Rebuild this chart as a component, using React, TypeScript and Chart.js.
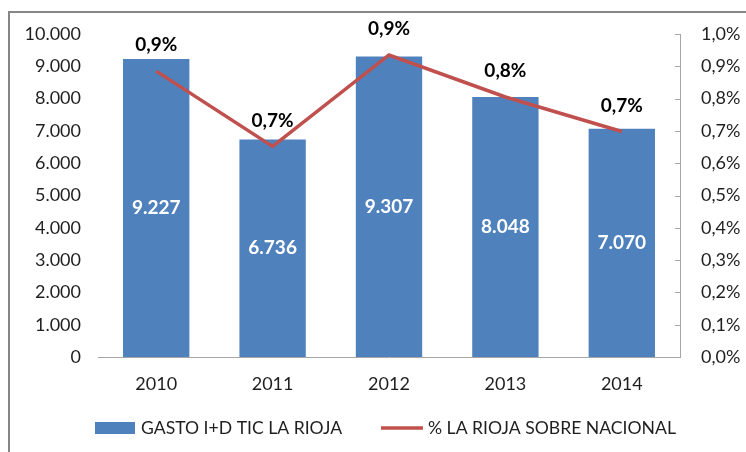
import React, { useEffect, useRef } from "react";
import { Chart, registerables } from "chart.js";

Chart.register(...registerables);

const years = ["2010", "2011", "2012", "2013", "2014"];
const gasto = [9227, 6736, 9307, 8048, 7070];
const porcentaje = [0.885, 0.652, 0.935, 0.805, 0.698];
const barLegend = "GASTO I+D TIC LA RIOJA";
const lineLegend = "% LA RIOJA SOBRE NACIONAL";

const FONT = "Lato";
const TEXT = "#1f1f1f";
const BAR = "#4F81BD";
const LINE = "#C0504D";
const AXIS = "#A6A6A6";

const fmtThousands = (v: number) =>
  Math.round(v).toString().replace(/\B(?=(\d{3})+(?!\d))/g, ".");
const fmtPct = (v: number) => v.toFixed(1).replace(".", ",") + "%";

const decorPlugin = {
  id: "decor",
  beforeDraw(chart: any) {
    const { ctx } = chart;
    ctx.save();
    ctx.fillStyle = "#fff";
    ctx.fillRect(0, 0, chart.width, chart.height);
    ctx.restore();
  },
  afterDraw(chart: any) {
    const { ctx, chartArea } = chart;
    ctx.save();
    // outer frame
    ctx.strokeStyle = "#868686";
    ctx.lineWidth = 2;
    ctx.strokeRect(9, 12, chart.width + 50, chart.height + 50);

    // right axis inner tick marks
    const y1 = chart.scales.y1;
    ctx.strokeStyle = AXIS;
    ctx.lineWidth = 1;
    y1.ticks.forEach((t: any) => {
      const py = Math.round(y1.getPixelForValue(t.value)) + 0.5;
      ctx.beginPath();
      ctx.moveTo(chartArea.right - 5, py);
      ctx.lineTo(chartArea.right, py);
      ctx.stroke();
    });

    // bar value labels
    const barMeta = chart.getDatasetMeta(0);
    ctx.fillStyle = "#fff";
    ctx.font = `bold 19px ${FONT}`;
    ctx.textAlign = "center";
    ctx.textBaseline = "middle";
    barMeta.data.forEach((el: any, i: number) => {
      const mid = (el.y + el.base) / 2;
      ctx.fillText(fmtThousands(gasto[i]), el.x, mid);
    });

    // line labels
    const lineMeta = chart.getDatasetMeta(1);
    ctx.fillStyle = "#000";
    lineMeta.data.forEach((el: any, i: number) => {
      ctx.fillText(fmtPct(porcentaje[i]), el.x, el.y - 26);
    });

    // legend
    const ly = 428;
    ctx.fillStyle = BAR;
    ctx.fillRect(95, ly - 6, 40, 12);
    ctx.fillStyle = TEXT;
    ctx.font = `17.6px ${FONT}`;
    ctx.textAlign = "left";
    ctx.fillText(barLegend, 141, ly);
    ctx.strokeStyle = LINE;
    ctx.lineWidth = 3.5;
    ctx.beginPath();
    ctx.moveTo(381, ly);
    ctx.lineTo(423, ly);
    ctx.stroke();
    ctx.fillText(lineLegend, 428, ly);
    ctx.restore();
  },
};

export default function App() {
  const ref = useRef<HTMLCanvasElement>(null);
  useEffect(() => {
    document.body.style.margin = "0";
    const chart = new Chart(ref.current!, {
      type: "bar",
      data: {
        labels: years,
        datasets: [
          {
            type: "bar",
            label: barLegend,
            data: gasto,
            backgroundColor: BAR,
            categoryPercentage: 1,
            barPercentage: 0.57,
            yAxisID: "y",
            order: 2,
          },
          {
            type: "line",
            label: lineLegend,
            data: porcentaje,
            borderColor: LINE,
            borderWidth: 3.5,
            pointRadius: 0,
            tension: 0,
            yAxisID: "y1",
            order: 1,
          } as any,
        ],
      },
      options: {
        responsive: false,
        animation: false,
        layout: { padding: { top: 34, left: 0, right: 0, bottom: 0 } },
        plugins: { legend: { display: false }, tooltip: { enabled: false } },
        scales: {
          x: {
            grid: { display: false, drawTicks: false },
            border: { display: true, color: AXIS, width: 1 },
            ticks: { color: TEXT, font: { family: FONT, size: 18 }, padding: 16 },
            afterFit: (s: any) => {
              s.height = 95;
            },
          },
          y: {
            position: "left",
            min: 0,
            max: 10000,
            grid: { display: false, drawTicks: false },
            border: { display: false },
            ticks: {
              stepSize: 1000,
              color: TEXT,
              font: { family: FONT, size: 18 },
              padding: 17,
              callback: (v: any) => fmtThousands(Number(v)),
            },
            afterFit: (s: any) => {
              s.width = 98;
            },
          },
          y1: {
            position: "right",
            min: 0,
            max: 1.0,
            grid: { display: false, drawTicks: false },
            border: { display: true, color: AXIS, width: 1 },
            ticks: {
              stepSize: 0.1,
              color: TEXT,
              font: { family: FONT, size: 18 },
              padding: 21,
              callback: (v: any) => fmtPct(Number(v)),
            },
            afterFit: (s: any) => {
              s.width = 66;
            },
          },
        },
      },
      plugins: [decorPlugin],
    });
    return () => chart.destroy();
  }, []);
  return (
    <canvas
      ref={ref}
      width={746}
      height={452}
      style={{ display: "block", width: 746, height: 452 }}
    />
  );
}
